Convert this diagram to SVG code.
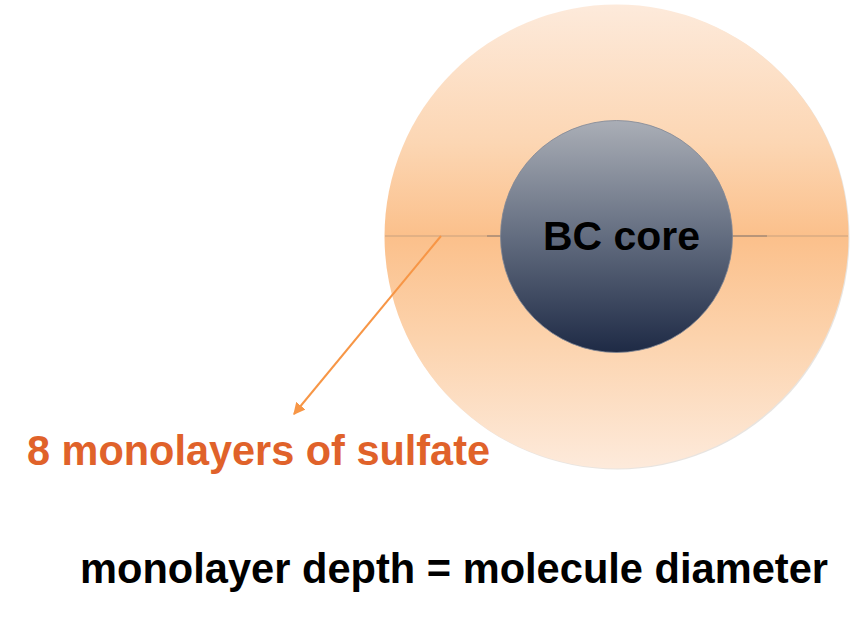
<svg xmlns="http://www.w3.org/2000/svg" width="860" height="617" viewBox="0 0 860 617">
  <style>
    .lbl { font-family: "Liberation Sans", Arial, sans-serif; font-weight: bold; }
  </style>
  <defs>
    <linearGradient id="shell" x1="0" y1="0" x2="0" y2="1">
      <stop offset="0" stop-color="#fdeadb"/>
      <stop offset="0.3" stop-color="#fcd6b3"/>
      <stop offset="0.5" stop-color="#fbc08b"/>
      <stop offset="0.72" stop-color="#fcd3ad"/>
      <stop offset="1" stop-color="#fdeadb"/>
    </linearGradient>
    <linearGradient id="core" x1="0" y1="0" x2="0" y2="1">
      <stop offset="0" stop-color="#aaaeb6"/>
      <stop offset="0.5" stop-color="#636d80"/>
      <stop offset="1" stop-color="#1e2a45"/>
    </linearGradient>
    <marker id="arr" viewBox="0 0 10 10" refX="9" refY="5" markerWidth="6" markerHeight="6" orient="auto" markerUnits="strokeWidth">
      <path d="M0,0 L10,5 L0,10 z" fill="#f79646"/>
    </marker>
  </defs>
  <g id="shell-node">
    <circle cx="617.5" cy="237.5" r="232" fill="#d9d2cc" opacity="0.6"/>
    <circle cx="616.5" cy="236.5" r="232" fill="url(#shell)"/>
  </g>
  <g id="connectors">
    <line x1="385" y1="236" x2="848" y2="236" stroke="#c8a17e" stroke-width="1"/>
    <line x1="487" y1="236" x2="501" y2="236" stroke="#8f7a6c" stroke-width="1"/>
    <line x1="732" y1="236" x2="767" y2="236" stroke="#8f7a6c" stroke-width="1"/>
    <line x1="441" y1="236" x2="294" y2="414" stroke="#f79646" stroke-width="2" marker-end="url(#arr)"/>
  </g>
  <g id="core-node">
    <circle cx="616.5" cy="236.5" r="116" fill="url(#core)" stroke="#7f8696" stroke-width="0.8"/>
    <text class="lbl" x="543" y="250" font-size="41" fill="#000" textLength="157" lengthAdjust="spacingAndGlyphs">BC core</text>
  </g>
  <g id="sulfate-label">
    <text class="lbl" x="27" y="465" font-size="42" fill="#e0622a" textLength="463" lengthAdjust="spacingAndGlyphs">8 monolayers of sulfate</text>
  </g>
  <g id="depth-label">
    <text class="lbl" x="80" y="583" font-size="42" fill="#000" textLength="748" lengthAdjust="spacingAndGlyphs">monolayer depth = molecule diameter</text>
  </g>
</svg>
